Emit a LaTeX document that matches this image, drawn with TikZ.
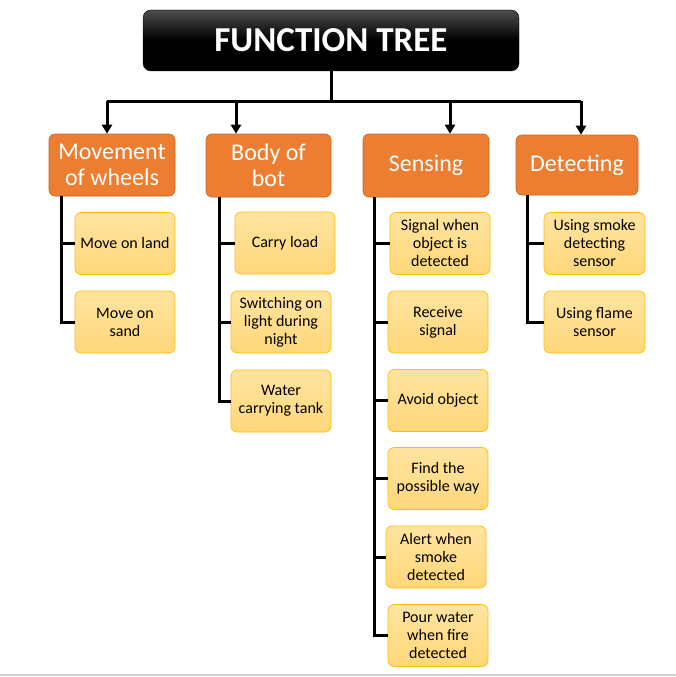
\documentclass[tikz,border=0pt]{standalone}
\usepackage{fontspec}
\setmainfont{Carlito}
\usetikzlibrary{arrows.meta}
\definecolor{catfill}{HTML}{ED7D31}
\definecolor{catbord}{HTML}{C8651F}
\definecolor{ytop}{HTML}{FFE4A0}
\definecolor{ybot}{HTML}{FFD77A}
\definecolor{ybord}{HTML}{FFC000}
\begin{document}
\begin{tikzpicture}[x=1pt,y=1pt,
  titlebox/.style={draw=black, rounded corners=8pt, top color=black!70, bottom color=black, middle color=black,
    minimum width=376pt, minimum height=61pt, inner sep=0pt, text=white,
    font=\fontsize{35}{37}\selectfont\bfseries},
  catbox/.style={draw=catbord, line width=0.6pt, fill=catfill, rounded corners=6pt,
    minimum width=126pt, minimum height=62pt, inner sep=0pt, text=white, align=center,
    font=\fontsize{24}{26}\selectfont},
  leaf/.style={draw=ybord, line width=0.7pt, top color=ytop, bottom color=ybot, rounded corners=6pt,
    minimum width=100pt, minimum height=62pt, inner sep=0pt, text=black, align=center,
    font=\fontsize{16}{18}\selectfont},
  link/.style={line width=3pt, black},
  arr/.style={line width=3pt, black, -{Triangle[length=9pt,width=10pt]}},
]
\useasboundingbox (0,0) rectangle (676,-677);
\fill[white] (0,0) rectangle (676,-677);
\draw[line width=2pt, black!18] (0,-675) -- (676,-675);

\node[titlebox] (title) at (331,-40.5) {FUNCTION TREE};

\node[catbox] (mw) at (112,-165) {Movement\\of wheels};
\node[catbox, minimum width=125pt, minimum height=63pt] (bb) at (268.5,-165.5) {Body of\\bot};
\node[catbox, minimum height=63pt] (se) at (426,-165.5) {Sensing};
\node[catbox, minimum width=122pt, minimum height=60pt] (de) at (577,-165) {Detecting};

\node[leaf] (land) at (125,-243.5) {Move on land};
\node[leaf] (sand) at (125,-322) {Move on\\sand};

\node[leaf] (carry) at (285,-243) {Carry load};
\node[leaf] (switch) at (281,-322) {Switching on\\light during\\night};
\node[leaf] (water) at (281,-401) {Water\\carrying tank};

\node[leaf] (sig) at (440,-243.5) {Signal when\\object is\\detected};
\node[leaf] (recv) at (438,-322) {Receive\\signal};
\node[leaf] (avoid) at (438,-400.5) {Avoid object};
\node[leaf] (find) at (438,-478.5) {Find the\\possible way};
\node[leaf] (alert) at (436,-557) {Alert when\\smoke\\detected};
\node[leaf] (pour) at (438,-635.5) {Pour water\\when fire\\detected};

\node[leaf, minimum width=101pt] (smoke) at (594.5,-243.5) {Using smoke\\detecting\\sensor};
\node[leaf, minimum width=101pt] (flame) at (594.5,-322) {Using flame\\sensor};

% top bus
\coordinate (bus) at (331,-101);
\draw[link] (title.south) -- (bus);
\coordinate (amw) at (107,-101);
\coordinate (abb) at (236,-101);
\coordinate (ase) at (450,-101);
\coordinate (ade) at (581,-101);
\draw[link] (amw) -- (ade);
\draw[arr] (amw) -- (amw |- mw.north);
\draw[arr] (abb) -- (abb |- bb.north);
\draw[arr] (ase) -- (ase |- se.north);
\draw[arr] (ade) -- (ade |- de.north);

% branches
\coordinate (tmw) at ([xshift=13pt]mw.south west);
\draw[link] (tmw) |- (sand.west);
\draw[link] (tmw |- land.west) -- (land.west);

\coordinate (tbb) at ([xshift=14pt]bb.south west);
\draw[link] (tbb) |- (water.west);
\draw[link] (tbb |- carry.west) -- (carry.west);
\draw[link] (tbb |- switch.west) -- (switch.west);

\coordinate (tse) at ([xshift=12pt]se.south west);
\draw[link] (tse) |- (pour.west);
\foreach \n in {sig,recv,avoid,find,alert}
  \draw[link] (tse |- \n.west) -- (\n.west);

\coordinate (tde) at ([xshift=12pt]de.south west);
\draw[link] (tde) |- (flame.west);
\draw[link] (tde |- smoke.west) -- (smoke.west);
\end{tikzpicture}
\end{document}
